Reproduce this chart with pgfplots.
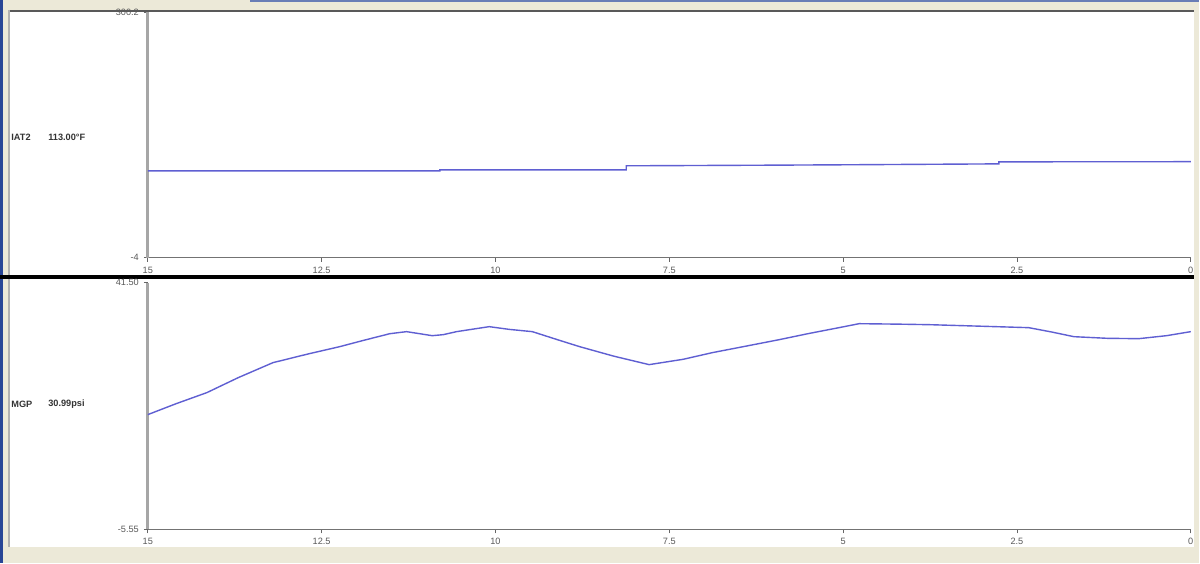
\documentclass[border=0pt]{standalone}
\usepackage{pgfplots}
\pgfplotsset{compat=1.18}
\usepackage{fontspec}
\setmainfont{Liberation Sans}
\definecolor{xpbeige}{RGB}{236,233,216}
\definecolor{xpblue}{RGB}{40,70,150}
\definecolor{trace}{RGB}{95,95,210}
\definecolor{ticktxt}{RGB}{90,90,90}
\pgfplotsset{
  scope/.style={
    scale only axis, width=522pt, height=123pt,
    x dir=reverse, xmin=0, xmax=15,
    axis x line=bottom, axis y line=left,
    x axis line style={-, black!55, line width=0.6pt},
    y axis line style={-, black!35, line width=1.4pt},
    tick style={black!60, line width=0.4pt},
    major tick length=2pt, tick align=outside,
    xtick={15,12.5,10,7.5,5,2.5,0},
    xticklabels={15,12.5,10,7.5,5,2.5,0},
    tick label style={font=\fontsize{4.6}{5}\selectfont, text=ticktxt},
    xticklabel style={yshift=1pt},
    yticklabel style={xshift=1pt},
    clip=false,
  }
}
\begin{document}
\begin{tikzpicture}
% window frame
\fill[xpbeige] (0pt,0pt) rectangle (600pt,282pt);
\fill[white] (4pt,8pt) rectangle (597.5pt,277pt);
\fill[xpblue] (0pt,0pt) rectangle (1.5pt,282pt);
\fill[xpblue!70] (125pt,281pt) rectangle (600pt,282pt);
\fill[black!65] (4pt,276pt) rectangle (597.5pt,277.2pt);
\fill[black!30] (4pt,8pt) rectangle (5pt,277pt);
\fill[black] (0pt,142.6pt) rectangle (597.5pt,144.4pt);
% labels
\node[anchor=west, inner sep=0pt, font=\fontsize{4.6}{5}\selectfont\bfseries, text=black!80] at (5.5pt,213.5pt) {IAT2};
\node[anchor=west, inner sep=0pt, font=\fontsize{4.6}{5}\selectfont\bfseries, text=black!80] at (24pt,213.5pt) {113.00°F};
\node[anchor=west, inner sep=0pt, font=\fontsize{4.6}{5}\selectfont\bfseries, text=black!80] at (5.5pt,79.5pt) {MGP};
\node[anchor=west, inner sep=0pt, font=\fontsize{4.6}{5}\selectfont\bfseries, text=black!80] at (24pt,79.5pt) {30.99psi};
% top panel
\begin{axis}[scope, at={(74pt,153pt)}, anchor=south west,
  ymin=-4, ymax=300.2, ytick={-4,300.2}, yticklabels={-4,300.2}]
\addplot[trace, line width=0.7pt] coordinates {
(15,103.6) (10.8,103.6) (10.8,104.8) (8.12,104.8) (8.12,109.8)
(6,110.6) (4.9,111.1) (2.76,112.2) (2.76,114.7) (0,114.9)};
\end{axis}
% bottom panel
\begin{axis}[scope, at={(74pt,17pt)}, anchor=south west, height=123.5pt,
  ymin=-5.55, ymax=41.5, ytick={-5.55,41.5}, yticklabels={-5.55,41.50}]
\addplot[trace, line width=0.7pt] coordinates {
(15,16.35) (14.6,18.4) (14.15,20.55) (13.7,23.4) (13.2,26.26) (12.7,27.9)
(12.24,29.31) (11.9,30.5) (11.52,31.78) (11.28,32.17) (11.1,31.8) (10.91,31.4)
(10.75,31.6) (10.56,32.17) (10.3,32.7) (10.09,33.12) (9.8,32.6) (9.47,32.17)
(9.1,30.6) (8.79,29.31) (8.3,27.5) (7.79,25.88) (7.3,26.9) (6.88,28.17)
(6.4,29.4) (5.92,30.64) (5.5,31.8) (5.06,32.93) (4.77,33.69) (4.2,33.6)
(3.76,33.5) (3.0,33.2) (2.33,32.93) (2.0,32.1) (1.68,31.21) (1.2,30.9)
(0.75,30.83) (0.35,31.4) (0,32.17)};
\end{axis}
\end{tikzpicture}
\end{document}
